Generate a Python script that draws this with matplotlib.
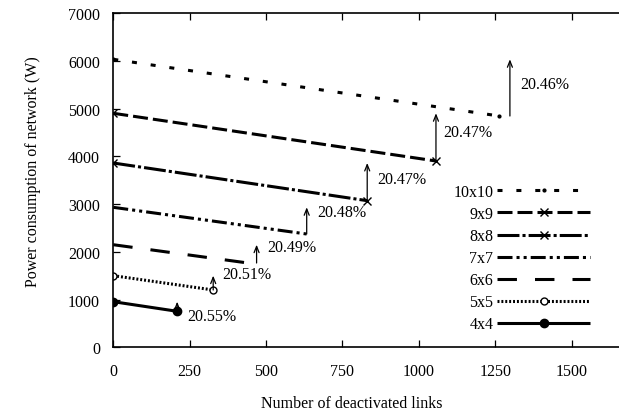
import matplotlib
matplotlib.use("Agg")
import matplotlib.pyplot as plt

plt.rcParams['font.family'] = ['Liberation Serif', 'DejaVu Serif']
plt.rcParams['lines.scale_dashes'] = False

# data
sizes = ['10x10', '9x9', '8x8', '7x7', '6x6', '5x5', '4x4']
start_power = [6030, 4900, 3859, 2931, 2148, 1500, 955]
end_links = [1263, 1056, 831, 633, 441, 327, 209]
end_power = [4843, 3901, 3070, 2372, 1765, 1200, 754]
savings = ['20.46%', '20.47%', '20.47%', '20.48%', '20.49%', '20.51%', '20.55%']

# annotation placement
arrow_x = [1298, 1056, 831, 633, 469, 327, 209]
label_x = [1331, 1079, 863, 666, 503, 356, 241]
label_y = [5513, 4506, 3524, 2833, 2100, 1535, 662]

# line styles
dashes = [(3.6, 10.0), (10.8, 3.6), (15.8, 2.2, 2.2, 2.2), (10.8, 2.9, 2.2, 2.9, 2.2, 2.9),
          (14, 13), (1.4, 1.4), None]
markers = ['.', 'x', 'x', '', '', 'o', 'o']
mfaces = ['black', 'black', 'black', 'black', 'black', 'white', 'black']
msizes = [4, 6, 6, 0, 0, 5, 6]

fig = plt.figure(figsize=(6.19, 4.14), dpi=100)
ax = fig.add_axes([0.1830, 0.1587, 0.8170, 0.8075])

for i, name in enumerate(sizes):
    line, = ax.plot([0, end_links[i]], [start_power[i], end_power[i]],
                    color='black', lw=2.2, marker=markers[i] or None,
                    markersize=msizes[i], markerfacecolor=mfaces[i],
                    markeredgecolor='black', markeredgewidth=1.0,
                    label=name, solid_capstyle='butt', dash_capstyle='butt')
    if dashes[i] is not None:
        line.set_dashes(dashes[i])
    ax.annotate('', xy=(arrow_x[i], start_power[i]), xytext=(arrow_x[i], end_power[i]),
                arrowprops=dict(arrowstyle='->,head_length=0.45,head_width=0.18',
                                lw=0.9, color='black',
                                shrinkA=0, shrinkB=0, mutation_scale=10))
    ax.text(label_x[i], label_y[i], savings[i], fontsize=11.5, ha='left', va='center')

ax.set_xlim(0, 1655)
ax.set_ylim(0, 7000)
ax.set_xticks(range(0, 1501, 250))
ax.set_yticks(range(0, 7001, 1000))
ax.tick_params(axis='both', direction='in', length=5, width=0.9, labelsize=11.5)
ax.tick_params(axis='x', top=True, pad=11)
ax.tick_params(axis='y', pad=9.5)
ax.spines['right'].set_visible(False)
for s in ['left', 'bottom', 'top']:
    ax.spines[s].set_linewidth(1.2)

leg = ax.legend(loc='upper right', bbox_to_anchor=(598 / 619, 1 - 177 / 414),
                bbox_transform=fig.transFigure, frameon=False, markerfirst=False,
                fontsize=11.5, handlelength=5.8, handletextpad=0.25,
                labelspacing=0.38, borderpad=0, numpoints=1)

fig.text(352 / 619, 1 - 404 / 414, 'Number of deactivated links', fontsize=11.5,
         ha='center', va='center')
fig.text(33 / 619, 1 - 172 / 414, 'Power consumption of network (W)', fontsize=11.5,
         ha='center', va='center', rotation=90)

fig.savefig('out.png', dpi=100)
